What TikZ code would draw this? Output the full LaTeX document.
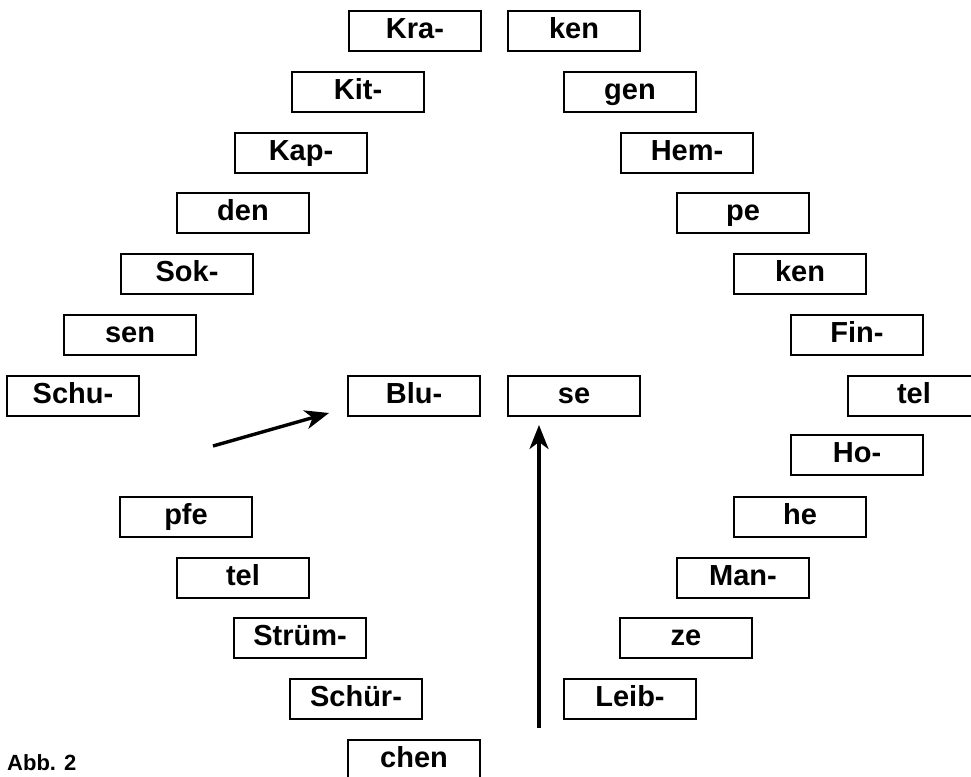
\documentclass[tikz,border=0pt]{standalone}
\usepackage{fontspec}
\setmainfont{Liberation Sans}
\usetikzlibrary{arrows.meta}
\begin{document}
\begin{tikzpicture}[x=1pt,y=-1pt,
  wbox/.style={draw=black, line width=2pt, rectangle, inner sep=0pt,
    minimum width=132pt, minimum height=40pt, text height=21pt, text depth=6pt,
    font=\fontsize{29}{30}\selectfont\bfseries, align=center},
  arr/.style={line width=3.4pt, -{Stealth[length=24pt,width=19pt,inset=7pt]}}]
\useasboundingbox (0,0) rectangle (971,776);
% left arc
\node[wbox] (kra)   at (415,31)  {Kra-};
\node[wbox] (kit)   at (358,92)  {Kit-};
\node[wbox] (kap)   at (301,153) {Kap-};
\node[wbox] (den)   at (243,213) {den};
\node[wbox] (sok)   at (187,274) {Sok-};
\node[wbox] (sen)   at (130,335) {sen};
\node[wbox] (schu)  at (73,396)  {Schu-};
\node[wbox] (pfe)   at (186,517) {pfe};
\node[wbox] (tell)  at (243,578) {tel};
\node[wbox] (strum) at (300,638) {Strüm-};
\node[wbox] (schur) at (356,699) {Schür-};
\node[wbox] (chen)  at (414,760) {chen};
% right arc
\node[wbox] (kenA)  at (574,31)  {ken};
\node[wbox] (gen)   at (630,92)  {gen};
\node[wbox] (hem)   at (687,153) {Hem-};
\node[wbox] (pe)    at (743,213) {pe};
\node[wbox] (kenB)  at (800,274) {ken};
\node[wbox] (fin)   at (857,335) {Fin-};
\node[wbox] (telr)  at (914,396) {tel};
\node[wbox] (ho)    at (857,455) {Ho-};
\node[wbox] (he)    at (800,517) {he};
\node[wbox] (man)   at (743,578) {Man-};
\node[wbox] (ze)    at (686,638) {ze};
\node[wbox] (leib)  at (630,699) {Leib-};
% centre
\node[wbox] (blu)   at (414,396) {Blu-};
\node[wbox] (se)    at (574,396) {se};
% arrows
\coordinate (a1s) at (213,446);
\coordinate (a1e) at (329,413);
\coordinate (a2s) at (539,728);
\coordinate (a2e) at (539,425);
\draw[arr] (a1s) -- (a1e);
\draw[arr] (a2s) -- (a2e);
% caption
\node[anchor=base west, inner sep=0pt, font=\fontsize{22}{23}\selectfont\bfseries] (abb) at (7,770) {Abb. 2};
\end{tikzpicture}
\end{document}
